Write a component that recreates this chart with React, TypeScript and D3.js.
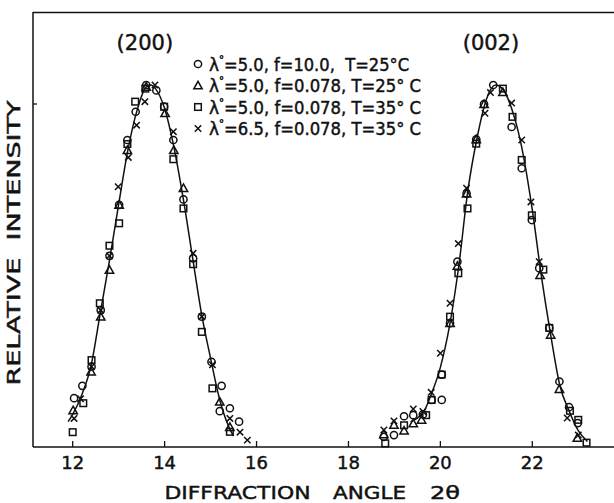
import React from 'react';
import * as d3 from 'd3';

type P = [number, number];

const xTicks = [12, 14, 16, 18, 20, 22];
const peakLabels = ['(200)', '(002)'];
const peakLabelAt = [13.57, 21.1];
const legendLabels = [
  'λ°=5.0, f=10.0,  T=25°C',
  'λ°=5.0, f=0.078, T=25° C',
  'λ°=5.0, f=0.078, T=35° C',
  'λ°=6.5, f=0.078, T=35° C',
];
const legendSymbols = ['circle', 'triangle', 'square', 'cross'];

// fitted curves (2θ, relative intensity)
const curve200: P[] = [
  [11.9, 0.07], [12.0, 0.09], [12.2, 0.145], [12.4, 0.225], [12.6, 0.37], [12.8, 0.515],
  [13.0, 0.67], [13.2, 0.82], [13.4, 0.93], [13.6, 0.995], [13.7, 1.0], [13.8, 0.99],
  [14.0, 0.935], [14.2, 0.83], [14.4, 0.69], [14.6, 0.53], [14.8, 0.37], [15.0, 0.245],
  [15.2, 0.13], [15.4, 0.055], [15.5, 0.03],
];
const curve002: P[] = [
  [19.35, 0.07], [19.5, 0.08], [19.65, 0.1], [19.8, 0.145], [20.0, 0.22], [20.2, 0.335],
  [20.4, 0.5], [20.6, 0.71], [20.8, 0.855], [21.0, 0.96], [21.2, 1.0], [21.35, 0.99],
  [21.55, 0.935], [21.75, 0.84], [22.0, 0.655], [22.2, 0.47], [22.4, 0.31], [22.6, 0.17],
  [22.8, 0.1], [23.0, 0.045], [23.2, 0.015],
];

// λ=5.0, f=10.0, T=25°C
const circlePts: P[] = [
  [13.6, 1.0], [13.82, 0.985], [13.37, 0.926], [13.19, 0.848], [13.01, 0.669], [12.8, 0.528],
  [12.61, 0.378], [12.41, 0.222], [12.21, 0.169], [12.03, 0.135], [13.99, 0.94], [14.19, 0.848],
  [14.41, 0.684], [14.62, 0.521], [14.81, 0.36], [15.02, 0.235], [15.24, 0.169], [15.2, 0.099],
  [15.42, 0.107], [15.62, 0.07],
  [21.15, 1.0], [20.95, 0.947], [20.78, 0.85], [20.57, 0.7], [20.37, 0.512], [20.21, 0.342],
  [20.03, 0.2], [19.81, 0.13], [20.03, 0.13], [19.62, 0.09], [19.41, 0.088], [19.21, 0.085],
  [18.99, 0.033], [18.77, 0.028], [21.55, 0.884], [21.77, 0.77], [21.99, 0.627], [22.15, 0.494],
  [22.37, 0.329], [22.59, 0.181], [22.8, 0.11], [22.99, 0.066],
];
// λ=5.0, f=0.078, T=25°C
const trianglePts: P[] = [
  [13.6, 0.995], [13.19, 0.82], [13.01, 0.669], [12.8, 0.489], [12.61, 0.36], [12.4, 0.208],
  [12.01, 0.101], [14.01, 0.922], [14.2, 0.82], [14.41, 0.715], [15.2, 0.125], [15.42, 0.055],
  [20.95, 0.947], [20.78, 0.85], [20.57, 0.7], [20.37, 0.5], [20.21, 0.342], [19.59, 0.075],
  [19.41, 0.065], [19.21, 0.045], [18.99, 0.061], [18.77, 0.035], [21.36, 0.98], [22.17, 0.475],
  [22.4, 0.31], [22.59, 0.16], [22.98, 0.025],
];
// λ=5.0, f=0.078, T=35°C
const squarePts: P[] = [
  [13.58, 0.99], [13.36, 0.954], [13.19, 0.837], [13.01, 0.618], [12.8, 0.556], [12.59, 0.397],
  [12.41, 0.24], [12.23, 0.121], [12.0, 0.041], [13.99, 0.94], [14.19, 0.795], [14.41, 0.659],
  [14.62, 0.505], [14.81, 0.318], [15.04, 0.162], [15.42, 0.042],
  [21.36, 0.99], [21.57, 0.912], [20.78, 0.838], [20.59, 0.659], [20.39, 0.48], [20.21, 0.36],
  [20.03, 0.2], [19.81, 0.13], [19.69, 0.088], [19.21, 0.06], [18.8, 0.01], [21.77, 0.793],
  [21.99, 0.64], [22.24, 0.49], [22.37, 0.329], [22.82, 0.1], [23.0, 0.075], [23.18, 0.012],
];
// λ=6.5, f=0.078, T=35°C
const crossPts: P[] = [
  [13.79, 1.0], [13.57, 0.954], [13.39, 0.889], [13.21, 0.8], [12.99, 0.719], [12.8, 0.528],
  [12.61, 0.378], [12.41, 0.222], [12.17, 0.133], [12.03, 0.079], [14.19, 0.871], [14.62, 0.535],
  [14.81, 0.36], [15.04, 0.227], [15.42, 0.079], [15.64, 0.041], [15.8, 0.019],
  [21.09, 0.979], [20.97, 0.922], [20.57, 0.715], [20.39, 0.562], [20.21, 0.397], [20.0, 0.259],
  [19.8, 0.151], [19.62, 0.098], [19.41, 0.105], [18.99, 0.072], [18.77, 0.047], [21.55, 0.95],
  [21.77, 0.848], [21.97, 0.677], [22.15, 0.512], [22.76, 0.08], [23.0, 0.033],
];

const W = 614;
const H = 503;
const INK = '#111';
const FONT = '"DejaVu Sans", sans-serif';
const textInk = { fill: INK, stroke: INK, strokeWidth: 0.45 };

function Marker({ kind, x, y }: { kind: string; x: number; y: number }) {
  const common = { fill: 'none', stroke: INK, strokeWidth: 1.5 };
  if (kind === 'circle') return <circle cx={x} cy={y} r={3.6} {...common} />;
  if (kind === 'square') return <rect x={x - 3.3} y={y - 3.3} width={6.6} height={6.6} {...common} />;
  if (kind === 'triangle') {
    const s = 4.2;
    return <path d={`M${x},${y - s}L${x + s},${y + s * 0.8}L${x - s},${y + s * 0.8}Z`} {...common} />;
  }
  const c = 3.2;
  return <path d={`M${x - c},${y - c}L${x + c},${y + c}M${x - c},${y + c}L${x + c},${y - c}`} {...common} />;
}

export default function App() {
  const x = d3.scaleLinear().domain([12, 22]).range([72.7, 532.3]);
  const y = d3.scaleLinear().domain([0, 1]).range([447, 85]);
  const line = d3
    .line<P>()
    .x((d) => x(d[0]))
    .y((d) => y(d[1]))
    .curve(d3.curveMonotoneX);

  const series: [string, P[]][] = [
    ['circle', circlePts],
    ['triangle', trianglePts],
    ['square', squarePts],
    ['cross', crossPts],
  ];
  const legendY = [64, 85.5, 107, 128.5];
  const legendLen = [201, 213, 213, 213];

  return (
    <svg
      width={W}
      height={H}
      style={{ position: 'absolute', left: 0, top: 0, background: '#fff' }}
      fontFamily={FONT}
    >
      <rect x={0} y={0} width={W} height={H} fill="#fff" />
      {/* frame */}
      <line x1={33} x2={33} y1={12} y2={447} stroke={INK} strokeWidth={1.5} />
      <line x1={33} x2={W} y1={12.5} y2={12.5} stroke={INK} strokeWidth={1.5} />
      <line x1={33} x2={W} y1={447} y2={447} stroke={INK} strokeWidth={1.6} />
      <line x1={33} x2={37} y1={104} y2={104} stroke={INK} strokeWidth={1.3} />
      {xTicks.map((t) => (
        <g key={t}>
          <line x1={x(t)} x2={x(t)} y1={447} y2={441} stroke={INK} strokeWidth={1.3} />
          <text x={x(t)} y={469} textAnchor="middle" fontSize={18} {...textInk}>
            {t}
          </text>
        </g>
      ))}
      {/* axis titles */}
      <text x={164.5} y={499} fontSize={18} {...textInk} textLength={146} lengthAdjust="spacingAndGlyphs">
        DIFFRACTION
      </text>
      <text x={333} y={499} fontSize={18} {...textInk} textLength={73} lengthAdjust="spacingAndGlyphs">
        ANGLE
      </text>
      <text x={430} y={499} fontSize={18} {...textInk} textLength={30} lengthAdjust="spacingAndGlyphs">
        2θ
      </text>
      <text
        transform={`translate(20,243) rotate(-90)`}
        textAnchor="middle"
        fontSize={18}
        {...textInk}
        textLength={285}
        lengthAdjust="spacingAndGlyphs"
        style={{ whiteSpace: 'pre' }}
      >
        RELATIVE  INTENSITY
      </text>
      {/* peak labels */}
      {peakLabels.map((l, i) => (
        <text key={l} x={x(peakLabelAt[i])} y={50} textAnchor="middle" fontSize={21} {...textInk}>
          {l}
        </text>
      ))}
      {/* curves */}
      {[curve200, curve002].map((c, i) => (
        <path key={i} d={line(c) || ''} fill="none" stroke={INK} strokeWidth={1.5} />
      ))}
      {/* points */}
      {series.map(([kind, pts]) =>
        pts.map((p, i) => <Marker key={kind + i} kind={kind} x={x(p[0])} y={y(p[1])} />)
      )}
      {/* legend */}
      {legendLabels.map((l, i) => (
        <g key={i}>
          <Marker kind={legendSymbols[i]} x={198} y={legendY[i]} />
          <text
            x={209}
            y={legendY[i] + 6.5}
            fontSize={17}
            {...textInk}
            style={{ whiteSpace: 'pre' }}
          >
            <tspan>{l.slice(0, 1)}</tspan>
            <tspan dx={0} dy={-8} fontSize={10}>
              {l.slice(1, 2)}
            </tspan>
            <tspan dx={0} dy={8} textLength={legendLen[i] - 16} lengthAdjust="spacingAndGlyphs">
              {l.slice(2)}
            </tspan>
          </text>
        </g>
      ))}
    </svg>
  );
}
